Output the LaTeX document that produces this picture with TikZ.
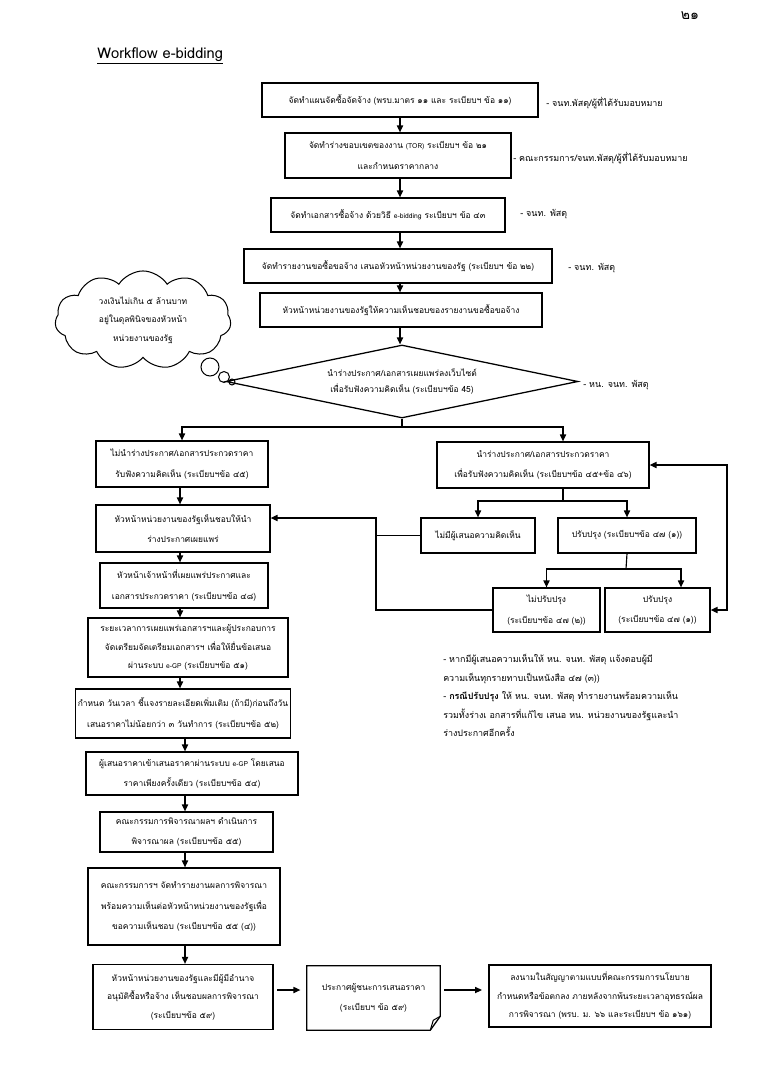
\documentclass[tikz,border=0pt]{standalone}
\usepackage{fontspec}
\setmainfont[Script=Thai]{Loma}
\usepackage{tikz}
\usetikzlibrary{arrows.meta,positioning,calc,shapes.geometric,shapes.symbols}
\newcommand{\boxfont}{\fontsize{6.6}{16}\selectfont}
\newcommand{\tightfont}{\fontsize{6.6}{14.5}\selectfont}
\newcommand{\notefont}{\fontsize{7}{14.5}\selectfont}
\newcommand{\tinyword}[1]{{\fontsize{5.3}{7}\selectfont #1}}
\tikzset{
  wh/.style 2 args={minimum width=#1*0.0275cm, minimum height=#2*0.0275cm},
  stepbox/.style={draw, line width=1pt, align=center, inner sep=2pt, font=\boxfont},
  link/.style={line width=0.9pt},
  sidenote/.style={anchor=west, font=\notefont, inner sep=0pt},
}

\begin{document}
\begin{tikzpicture}[x=0.0275cm, y=-0.0275cm, >={Triangle[length=1.9mm, width=1.7mm]}]
\useasboundingbox (0,0) rectangle (768,1067);

% heading
\node[font=\fontsize{11}{13}\selectfont] (pageno) at (690,16) {๒๑};
\node[anchor=west, inner sep=0pt, font=\fontsize{11.5}{13}\selectfont] (title) at (97,56) {\underline{Workflow e-bidding}};

% main column
\coordinate (spine) at (400,0);
\node[stepbox, wh={276}{34}] (plan) at (400,100)
    {จัดทำแผนจัดซื้อจัดจ้าง (พรบ.มาตร ๑๑ และ ระเบียบฯ ข้อ ๑๑)};
\node[stepbox, wh={226}{45}] (tor) at (398,155.5)
    {จัดทำร่างขอบเขตของงาน \tinyword{(TOR)} ระเบียบฯ ข้อ ๒๑\\และกำหนดราคากลาง};
\node[stepbox, wh={234}{34}] (biddoc) at (388,215)
    {จัดทำเอกสารซื้อจ้าง ด้วยวิธี \tinyword{e-bidding} ระเบียบฯ ข้อ ๔๓};
\node[stepbox, wh={308}{34}] (report) at (398,266)
    {จัดทำรายงานขอซื้อขอจ้าง เสนอหัวหน้าหน่วยงานของรัฐ (ระเบียบฯ ข้อ ๒๒)};
\node[stepbox, wh={282}{34}] (approve) at (401,310)
    {หัวหน้าหน่วยงานของรัฐให้ความเห็นชอบของรายงานขอซื้อขอจ้าง};
\node[draw, diamond, aspect=4.8, wh={352}{73}, line width=1pt, inner sep=0pt,
    align=center, font=\fontsize{6.6}{13}\selectfont] (ask) at (402,381.5)
    {นำร่างประกาศ/เอกสารเผยแพร่ลงเว็บไซต์\\เพื่อรับฟังความคิดเห็น (ระเบียบฯข้อ 45)};

\draw[link,->] (spine |- plan.south) -- (spine |- tor.north);
\draw[link,->] (spine |- tor.south) -- (spine |- biddoc.north);
\draw[link,->] (spine |- biddoc.south) -- (spine |- report.north);
\draw[link,->] (spine |- report.south) -- (spine |- approve.north);
\draw[link,->] (spine |- approve.south) -- (spine |- ask.north);

% who does it
\node[sidenote] (who1) at (546,103) {- จนท.พัสดุ/ผู้ที่ได้รับมอบหมาย};
\node[sidenote] (who2) at (513,158) {- คณะกรรมการ/จนท.พัสดุ/ผู้ที่ได้รับมอบหมาย};
\node[sidenote] (who3) at (520,214) {- จนท. พัสดุ};
\node[sidenote] (who4) at (568,268) {- จนท. พัสดุ};
\node[sidenote] (who5) at (583,385) {- หน. จนท. พัสดุ};

% budget cloud
\node[cloud, draw, cloud puffs=11, cloud puff arc=115, aspect=1.9, wh={176}{92},
    line width=0.8pt, align=center, font=\tightfont] (budget) at (143,320)
    {วงเงินไม่เกิน ๕ ล้านบาท\\อยู่ในดุลพินิจของหัวหน้า\\หน่วยงานของรัฐ};
\draw[line width=0.8pt] (210,367) circle (9);
\draw[line width=0.8pt] (224,377) circle (5.5);
\draw[line width=0.8pt] (232,382) circle (3);

% split after hearing decision
\coordinate (fork) at (402,427);
\coordinate (hlane) at (563,0);
\node[stepbox, wh={172}{46}] (skip) at (182,464)
    {ไม่นำร่างประกาศ/เอกสารประกวดราคา\\รับฟังความคิดเห็น (ระเบียบฯข้อ ๔๕)};
\node[stepbox, wh={212}{46}] (hearing) at (543,465)
    {นำร่างประกาศ/เอกสารประกวดราคา\\เพื่อรับฟังความคิดเห็น (ระเบียบฯข้อ ๔๕+ข้อ ๔๖)};
\draw[link] (ask.south) -- (fork);
\draw[link,->] (fork) -| (skip.north);
\draw[link,->] (fork) -| (hlane |- hearing.north);

% right branch
\node[stepbox, wh={114}{35}] (nocomment) at (478,535.5) {ไม่มีผู้เสนอความคิดเห็น};
\node[stepbox, wh={138}{35}] (revise) at (627,535.5) {ปรับปรุง (ระเบียบฯข้อ ๔๗ (๑))};
\coordinate (fork2) at (563,501);
\draw[link] (hlane |- hearing.south) -- (fork2);
\draw[link,->] (fork2) -| (nocomment.north);
\draw[link,->] (fork2) -| (revise.north);

\node[stepbox, wh={107}{44}] (keep) at (546.5,610) {ไม่ปรับปรุง\\(ระเบียบฯข้อ ๔๗ (๒))};
\node[stepbox, wh={105}{44}] (fix) at (657.5,610) {ปรับปรุง\\(ระเบียบฯข้อ ๔๗ (๑))};
\coordinate (fork3) at (626,569);
\coordinate (fixlane) at (681,0);
\draw[link] (revise.south) -- (fork3);
\draw[link,->] (fork3) -| (keep.north);
\draw[link,->] (fork3) -| (fixlane |- fix.north);

% loop back to hearing
\coordinate (loop) at (727,0);
\draw[link,<->] (hearing.east) -- (loop |- hearing.east) -- (loop |- fix.east) -- (fix.east);

% left column
\coordinate (lane) at (180,0);
\coordinate (lane2) at (185,0);
\node[stepbox, wh={174}{47}] (headok) at (183,528.5)
    {หัวหน้าหน่วยงานของรัฐเห็นชอบให้นำ\\ร่างประกาศเผยแพร่};
\node[stepbox, wh={168}{45}] (publish) at (184,585.5)
    {หัวหน้าเจ้าหน้าที่เผยแพร่ประกาศและ\\เอกสารประกวดราคา (ระเบียบฯข้อ ๔๘)};
\node[stepbox, wh={200}{59}, font=\tightfont] (period) at (188,647.5)
    {ระยะเวลาการเผยแพร่เอกสารฯและผู้ประกอบการ\\จัดเตรียมจัดเตรียมเอกสารฯ เพื่อให้ยื่นข้อเสนอ\\ผ่านระบบ \tinyword{e-GP} (ระเบียบฯข้อ ๕๑)};
\node[stepbox, wh={206}{49}] (explain) at (183,713.5)
    {กำหนด วันเวลา ชี้แจงรายละเอียดเพิ่มเติม (ถ้ามี)ก่อนถึงวัน\\เสนอราคาไม่น้อยกว่า ๓ วันทำการ (ระเบียบฯข้อ ๕๒)};
\node[stepbox, wh={212}{43}] (offer) at (192,773.5)
    {ผู้เสนอราคาเข้าเสนอราคาผ่านระบบ \tinyword{e-GP} โดยเสนอ\\ราคาเพียงครั้งเดียว (ระเบียบฯข้อ ๕๔)};
\node[stepbox, wh={173}{40}] (judge) at (186.5,832)
    {คณะกรรมการพิจารณาผลฯ ดำเนินการ\\พิจารณาผล (ระเบียบฯข้อ ๕๕)};
\node[stepbox, wh={192}{77}] (summary) at (184,906.5)
    {คณะกรรมการฯ จัดทำรายงานผลการพิจารณา\\พร้อมความเห็นต่อหัวหน้าหน่วยงานของรัฐเพื่อ\\ขอความเห็นชอบ (ระเบียบฯข้อ ๕๕ (๔))};

\draw[link,->] (lane |- skip.south) -- (lane |- headok.north);
\draw[link,->] (lane |- headok.south) -- (lane |- publish.north);
\draw[link,->] (lane |- publish.south) -- (lane |- period.north);
\draw[link,->] (lane |- period.south) -- (lane |- explain.north);
\draw[link,->] (lane2 |- explain.south) -- (lane2 |- offer.north);
\draw[link,->] (lane2 |- offer.south) -- (lane2 |- judge.north);
\draw[link,->] (lane2 |- judge.south) -- (lane2 |- summary.north);

% back to head of agency
\coordinate (backtop) at (376,518);
\draw[link,->] (keep.west) -| (backtop) -- (backtop -| headok.east);
\draw[link] (nocomment.west) -- (nocomment.west -| backtop);

% remarks
\node[anchor=north west, align=left, inner sep=0pt, font=\notefont] (remark) at (443,654)
    {- หากมีผู้เสนอความเห็นให้ หน. จนท. พัสดุ แจ้งตอบผู้มี\\
     ความเห็นทุกรายทาบเป็นหนังสือ ๔๗ (๓))\\
     - \textbf{กรณีปรับปรุง} ให้ หน. จนท. พัสดุ ทำรายงานพร้อมความเห็น\\
     รวมทั้งร่างเ อกสารที่แก้ไข เสนอ หน. หน่วยงานของรัฐและนำ\\
     ร่างประกาศอีกครั้ง};

% final row
\coordinate (row) at (0,990);
\node[stepbox, wh={180}{65}, font=\tightfont] (authorize) at (183,997)
    {หัวหน้าหน่วยงานของรัฐและมีผู้มีอำนาจ\\อนุมัติซื้อหรือจ้าง เห็นชอบผลการพิจารณา\\(ระเบียบฯข้อ ๕๙)};
\node[wh={133}{64}, align=center, inner sep=2pt, font=\boxfont] (winner) at (373.5,998)
    {ประกาศผู้ชนะการเสนอราคา\\(ระเบียบฯ ข้อ ๕๙)};
\draw[line width=1pt] (winner.north west) -- (winner.north east)
    -- ($(winner.south east)+(0,-14)$) -- ($(winner.south east)+(-10,0)$)
    -- (winner.south west) -- cycle;
\draw[line width=0.8pt] ($(winner.south east)+(-10,0)$) -- ($(winner.south east)+(-7,-10)$)
    -- ($(winner.south east)+(0,-14)$);
\node[stepbox, wh={222}{62}, font=\tightfont] (contract) at (600,996)
    {ลงนามในสัญญาตามแบบที่คณะกรรมการนโยบาย\\กำหนดหรือข้อตกลง ภายหลังจากพ้นระยะเวลาอุทธรณ์ผล\\การพิจารณา (พรบ. ม. ๖๖ และระเบียบฯ ข้อ ๑๖๑)};

\draw[link,->] (lane2 |- summary.south) -- (lane2 |- authorize.north);
\draw[link,->, shorten <=3pt, shorten >=5pt] (authorize.east |- row) -- (winner.west |- row);
\draw[link,->, shorten <=3pt, shorten >=5pt] (winner.east |- row) -- (contract.west |- row);
\end{tikzpicture}
\end{document}
